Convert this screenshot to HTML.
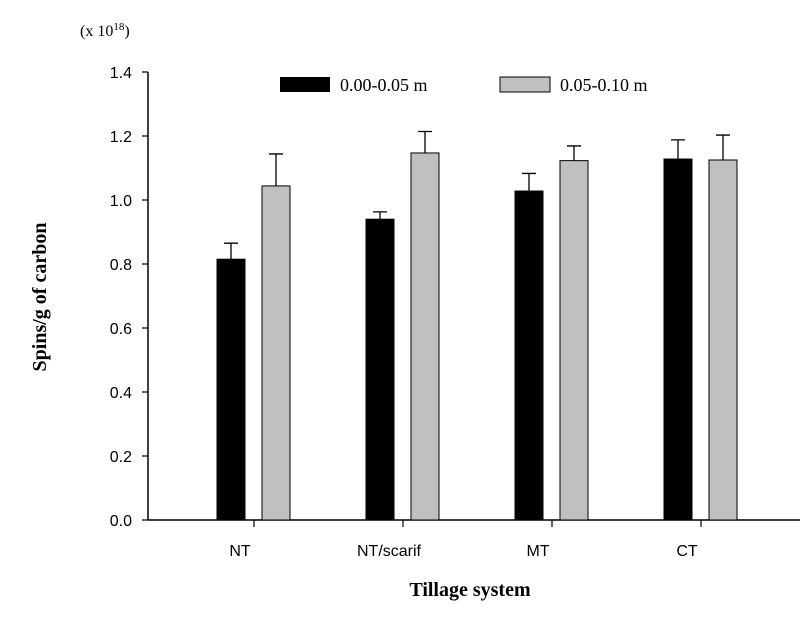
<!DOCTYPE html>
<html><head><meta charset="utf-8"><style>
body{margin:0;background:#fff;width:810px;height:612px;overflow:hidden}
</style></head><body>
<svg width="810" height="612" xmlns="http://www.w3.org/2000/svg">
<g id="g"></g>
</svg>
<script>
const categories=["NT","NT/scarif","MT","CT"];
const shallow=[0.815,0.94,1.028,1.128];
const shallowErr=[0.05,0.023,0.055,0.06];
const deep=[1.044,1.147,1.123,1.125];
const deepErr=[0.1,0.067,0.046,0.078];
const yTicks=[0,0.2,0.4,0.6,0.8,1.0,1.2,1.4];
const ns="http://www.w3.org/2000/svg";
const g=document.getElementById('g');
const y=v=>520-v*320;
const xc=i=>254+i*149;
function mk(t,a,txt){const e=document.createElementNS(ns,t);for(const k in a)e.setAttribute(k,a[k]);if(txt!=null)e.textContent=txt;g.appendChild(e);return e;}
// axes
let e=mk('line',{x1:148,y1:72,x2:148,y2:520,stroke:'#000','stroke-width':1.5});

e=mk('line',{x1:148,y1:520,x2:800,y2:520,stroke:'#000','stroke-width':1.5});

yTicks.forEach(v=>{
 let t=mk('line',{x1:142,y1:y(v),x2:148,y2:y(v),stroke:'#000','stroke-width':1.2});
 
 let l=mk('text',{x:132,y:y(v)+6,'text-anchor':'end','font-family':'Liberation Sans, sans-serif','font-size':16},v.toFixed(1));
 
});
categories.forEach((c,i)=>{
 let t=mk('line',{x1:xc(i),y1:520,x2:xc(i),y2:527,stroke:'#000','stroke-width':1.2});
 
 let l=mk('text',{x:xc(i)-14,y:556,'text-anchor':'middle','font-family':'Liberation Sans, sans-serif','font-size':16},c);
 
 [[shallow,shallowErr,-37,'#000','shallow'],[deep,deepErr,8,'#c0c0c0','deep']].forEach(([vals,errs,off,fill,nm])=>{
  const x0=xc(i)+off, v=vals[i], top=y(v), et=y(v+errs[i]);
  let b=mk('rect',{x:x0,y:top,width:28,height:520-top,fill:fill,stroke:'#000','stroke-width':1});
  
  let el=mk('path',{d:`M${x0+14},${top}V${et}M${x0+7},${et}H${x0+21}`,stroke:'#000','stroke-width':1.3,fill:'none'});
  
 });
});
</script>
<svg width="810" height="612" style="position:absolute;left:0;top:0">
<text x="80" y="36" font-family="Liberation Serif, serif" font-size="16">(x 10<tspan dy="-6" font-size="11">18</tspan><tspan dy="6">)</tspan></text>
<rect x="280" y="77" width="50" height="15" fill="#000"/>
<text x="340" y="91" font-family="Liberation Serif, serif" font-size="18">0.00-0.05 m</text>
<rect x="500" y="77" width="50" height="15" fill="#c0c0c0" stroke="#000"/>
<text x="560" y="91" font-family="Liberation Serif, serif" font-size="18">0.05-0.10 m</text>
<text x="470" y="596" text-anchor="middle" font-family="Liberation Serif, serif" font-weight="bold" font-size="20">Tillage system</text>
<text transform="translate(46,297) rotate(-90)" text-anchor="middle" font-family="Liberation Serif, serif" font-weight="bold" font-size="20">Spins/g of carbon</text>
</svg>
</body></html>
